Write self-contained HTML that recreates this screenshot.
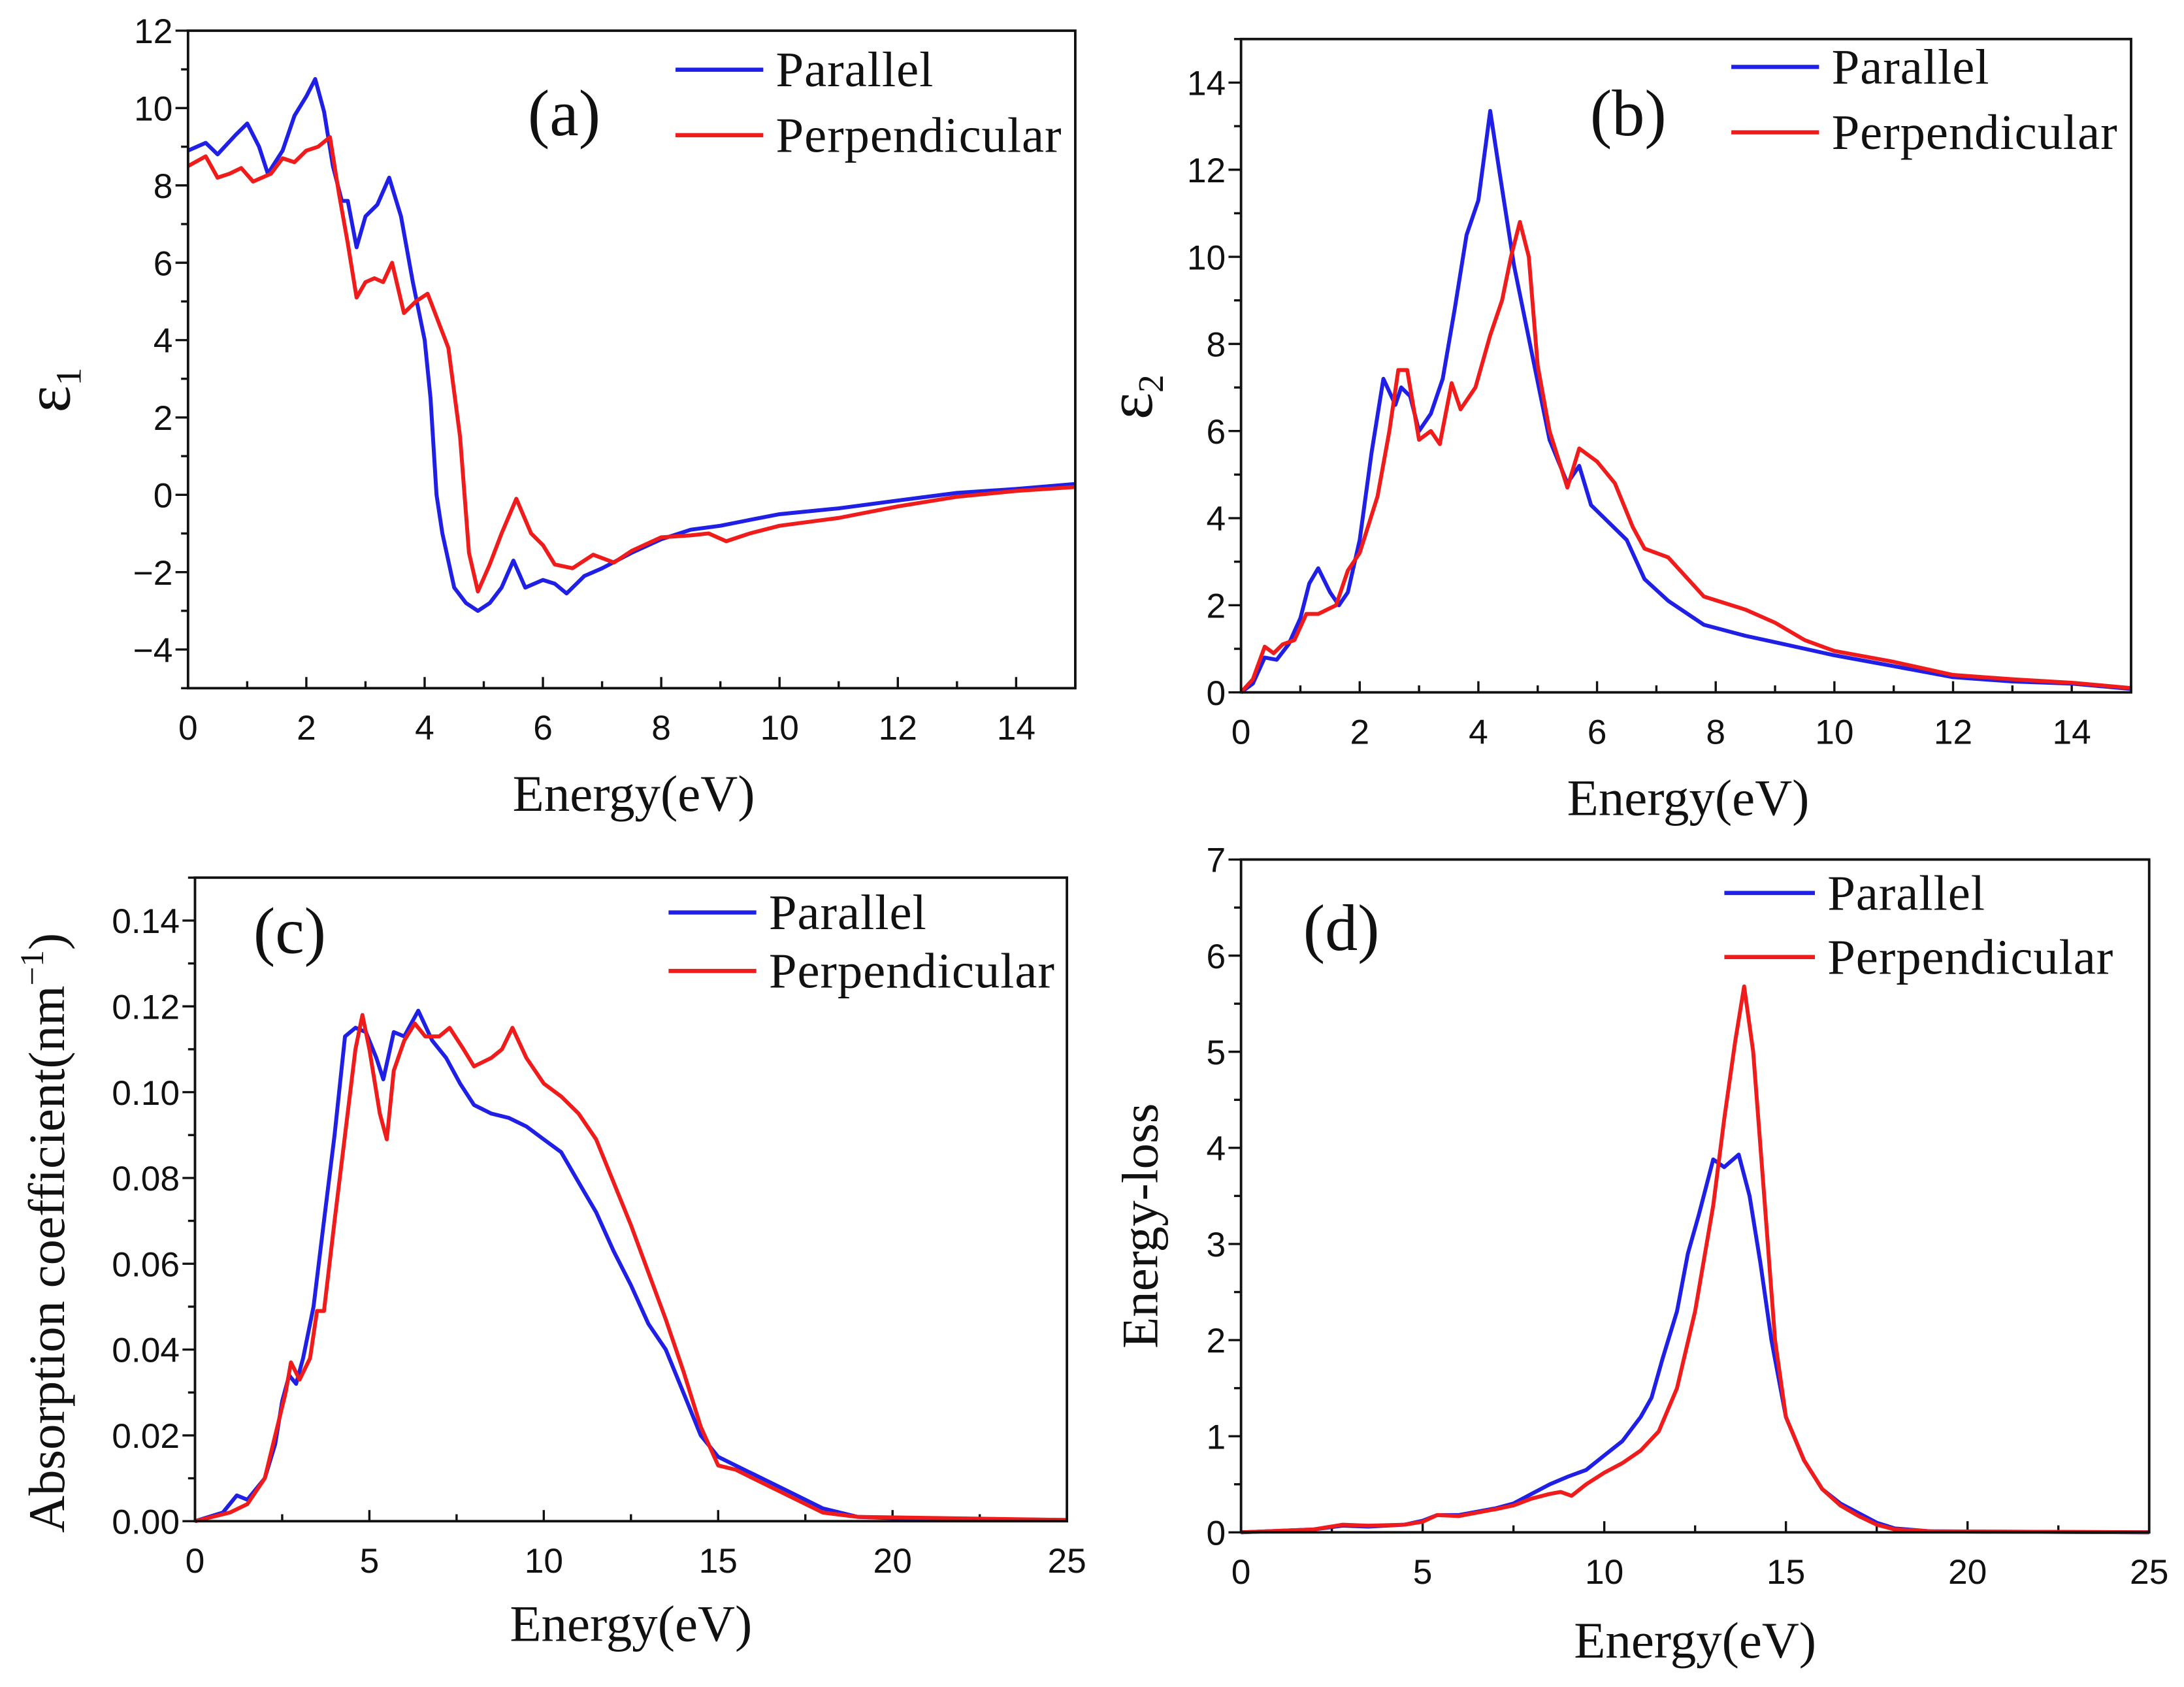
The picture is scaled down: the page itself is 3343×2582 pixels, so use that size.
<!DOCTYPE html>
<html><head><meta charset="utf-8"><style>
html,body{margin:0;padding:0;background:#fff;}
svg{display:block;}
.tk{font-family:"Liberation Sans",Arial,sans-serif;font-size:25px;fill:#111;}
.sf{font-family:"Liberation Serif","Times New Roman",serif;fill:#111;}
</style></head><body>
<svg id="fig" width="3343" height="2582" viewBox="0 0 1568 1211" xmlns="http://www.w3.org/2000/svg"></svg>
<script>
// ---- data (x: eV, y: value) ----
const aParX=[0,0.3,0.5,0.8,1.0,1.2,1.35,1.6,1.8,2.0,2.15,2.3,2.45,2.6,2.7,2.85,3.0,3.2,3.4,3.6,3.8,4.0,4.1,4.2,4.3,4.5,4.7,4.9,5.1,5.3,5.5,5.7,6.0,6.2,6.4,6.7,7,7.5,8,8.5,9,9.5,10,11,12,13,14,15];
const aParY=[8.9,9.1,8.8,9.3,9.6,9.0,8.3,8.9,9.8,10.3,10.75,9.9,8.5,7.6,7.6,6.4,7.2,7.5,8.2,7.2,5.5,4.0,2.5,0,-1.0,-2.4,-2.8,-3.0,-2.8,-2.4,-1.7,-2.4,-2.2,-2.3,-2.55,-2.1,-1.9,-1.5,-1.15,-0.9,-0.8,-0.65,-0.5,-0.35,-0.15,0.05,0.15,0.28];
const aPerX=[0,0.3,0.5,0.7,0.9,1.1,1.4,1.6,1.8,2.0,2.2,2.4,2.55,2.7,2.85,3.0,3.15,3.3,3.45,3.65,3.85,4.05,4.2,4.4,4.6,4.75,4.9,5.1,5.3,5.55,5.8,6.0,6.2,6.5,6.85,7.2,7.5,8,8.5,8.8,9.1,9.5,10,11,12,13,14,15];
const aPerY=[8.5,8.75,8.2,8.3,8.45,8.1,8.3,8.7,8.6,8.9,9.0,9.25,7.8,6.5,5.1,5.5,5.6,5.5,6.0,4.7,5.0,5.2,4.6,3.8,1.5,-1.5,-2.5,-1.8,-1.0,-0.1,-1.0,-1.3,-1.8,-1.9,-1.55,-1.75,-1.45,-1.1,-1.05,-1.0,-1.2,-1.0,-0.8,-0.6,-0.3,-0.05,0.1,0.2];
const bParX=[0,0.2,0.4,0.6,0.8,1.0,1.15,1.3,1.5,1.65,1.8,2.0,2.2,2.4,2.6,2.7,2.85,3.0,3.2,3.4,3.6,3.8,4.0,4.2,4.35,4.6,4.9,5.2,5.5,5.7,5.9,6.2,6.5,6.8,7.2,7.8,8.5,9,10,11,12,13,14,15];
const bParY=[0,0.2,0.8,0.75,1.1,1.7,2.5,2.85,2.3,2.0,2.3,3.5,5.5,7.2,6.6,7.0,6.8,6.0,6.4,7.2,8.8,10.5,11.3,13.35,12.0,9.8,7.8,5.8,4.8,5.2,4.3,3.9,3.5,2.6,2.1,1.55,1.3,1.15,0.85,0.6,0.35,0.25,0.2,0.08];
const bPerX=[0,0.2,0.4,0.55,0.7,0.9,1.1,1.3,1.6,1.8,2.0,2.3,2.5,2.65,2.8,3.0,3.2,3.35,3.55,3.7,3.95,4.2,4.4,4.55,4.7,4.85,5.0,5.2,5.5,5.7,6.0,6.3,6.6,6.8,7.2,7.8,8.5,9,9.5,10,11,12,13,14,15];
const bPerY=[0,0.3,1.05,0.9,1.1,1.2,1.8,1.8,2.0,2.8,3.2,4.5,6.0,7.4,7.4,5.8,6.0,5.7,7.1,6.5,7.0,8.2,9.0,10.0,10.8,10.0,7.5,6.0,4.7,5.6,5.3,4.8,3.8,3.3,3.1,2.2,1.9,1.6,1.2,0.95,0.7,0.4,0.3,0.22,0.1];
const cParX=[0,0.8,1.2,1.5,2.0,2.3,2.5,2.7,2.9,3.1,3.4,3.7,4.0,4.3,4.6,4.9,5.2,5.4,5.7,6.0,6.4,6.8,7.2,7.6,8.0,8.5,9,9.5,10,10.5,11,11.5,12,12.5,13,13.5,14,14.5,15,15.5,16,17,18,19,20,25];
const cParY=[0,0.002,0.006,0.005,0.01,0.018,0.028,0.034,0.032,0.038,0.05,0.07,0.09,0.113,0.115,0.114,0.108,0.103,0.114,0.113,0.119,0.112,0.108,0.102,0.097,0.095,0.094,0.092,0.089,0.086,0.079,0.072,0.063,0.055,0.046,0.04,0.03,0.02,0.015,0.013,0.011,0.007,0.003,0.001,0.0007,0.0003];
const cPerX=[0,1,1.5,2,2.3,2.6,2.75,3.0,3.3,3.5,3.7,4.0,4.3,4.6,4.8,5.0,5.3,5.5,5.7,6.0,6.3,6.6,7.0,7.3,7.7,8,8.5,8.8,9.1,9.5,10,10.5,11,11.5,12,12.5,13,13.5,14,14.5,15,15.5,16,17,18,19,25];
const cPerY=[0,0.002,0.004,0.01,0.02,0.03,0.037,0.033,0.038,0.049,0.049,0.07,0.09,0.11,0.118,0.11,0.095,0.089,0.105,0.112,0.116,0.113,0.113,0.115,0.11,0.106,0.108,0.11,0.115,0.108,0.102,0.099,0.095,0.089,0.079,0.069,0.058,0.047,0.035,0.022,0.013,0.012,0.01,0.006,0.002,0.001,0.0003];
const dParX=[0,2,2.8,3.5,4.5,5,5.4,6,7,7.5,8,8.5,9,9.5,10,10.5,11,11.3,11.6,12,12.3,12.6,13,13.3,13.7,14,14.3,14.6,15,15.5,16,16.5,17,17.5,18,19,25];
const dParY=[0,0.03,0.07,0.06,0.08,0.12,0.18,0.18,0.25,0.3,0.4,0.5,0.58,0.65,0.8,0.95,1.2,1.4,1.8,2.3,2.9,3.3,3.88,3.8,3.93,3.5,2.8,2.0,1.2,0.75,0.45,0.3,0.2,0.1,0.04,0.01,0];
const dPerX=[0,2,2.8,3.5,4.5,5,5.4,6,7,7.5,8,8.5,8.8,9.1,9.5,10,10.5,11,11.5,12,12.5,13,13.3,13.6,13.85,14.1,14.4,14.7,15,15.5,16,16.5,17,17.5,18,19,25];
const dPerY=[0,0.03,0.08,0.07,0.08,0.11,0.18,0.17,0.24,0.28,0.35,0.4,0.42,0.38,0.5,0.62,0.72,0.85,1.05,1.5,2.3,3.4,4.3,5.1,5.68,5.0,3.5,2.0,1.2,0.75,0.45,0.28,0.17,0.08,0.03,0.01,0];
const aXTicks=["0","2","4","6","8","10","12","14"];
const aYTicks=["\u22124","\u22122","0","2","4","6","8","10","12"];
const bYTicks=["0","2","4","6","8","10","12","14"];
const cXTicks=["0","5","10","15","20","25"];
const cYTicks=["0.00","0.02","0.04","0.06","0.08","0.10","0.12","0.14"];
const dYTicks=["0","1","2","3","4","5","6","7"];

const NS="http://www.w3.org/2000/svg";
const svg=document.getElementById('fig');
function mk(tag,attrs,parent){const e=document.createElementNS(NS,tag);for(const k in attrs)e.setAttribute(k,attrs[k]);(parent||svg).appendChild(e);return e;}

const panels=[
 {id:'a',L:135,R:772,T:22,B:494,x0:0,x1:15,y0:-5,y1:12,xt:aXTicks,xminor:1,yt:aYTicks,yminor:1,par:[aParX,aParY],per:[aPerX,aPerY],
  leg:[485,548,50,97],lab:[405,97],ytitle:'eps1',ytx:50,yty:280,xtx:455,xty:582},
 {id:'b',L:891,R:1530,T:28,B:497,x0:0,x1:15,y0:0,y1:15,xt:aXTicks,xminor:1,yt:bYTicks,yminor:1,par:[bParX,bParY],per:[bPerX,bPerY],
  leg:[1243,1306,48,95],lab:[1169,97],ytitle:'eps2',ytx:827,yty:285,xtx:1212,xty:585},
 {id:'c',L:140,R:766,T:630,B:1092,x0:0,x1:25,y0:0,y1:0.15,xt:cXTicks,xminor:2.5,yt:cYTicks,yminor:0.01,par:[cParX,cParY],per:[cPerX,cPerY],
  leg:[480,543,655,697],lab:[208,684],ytitle:'abs',ytx:46,yty:885,xtx:453,xty:1178},
 {id:'d',L:891,R:1543,T:617,B:1100,x0:0,x1:25,y0:0,y1:7,xt:cXTicks,xminor:2.5,yt:dYTicks,yminor:0.5,par:[dParX,dParY],per:[dPerX,dPerY],
  leg:[1238,1303,641,687],lab:[963,682],ytitle:'eloss',ytx:831,yty:880,xtx:1217,xty:1190}
];

panels.forEach(p=>{
  const g=mk('g',{});
  
  
  const sx=v=>p.L+(v-p.x0)/(p.x1-p.x0)*(p.R-p.L);
  const sy=v=>p.B-(v-p.y0)/(p.y1-p.y0)*(p.B-p.T);
  const xs=(p.id==='a'||p.id==='b')?2:5;
  for(let v=p.x0; v<=p.x1+1e-9; v+=p.xminor){
    const maj=Math.abs(v/xs-Math.round(v/xs))<1e-6;
    const t=mk('line',{x1:sx(v),x2:sx(v),y1:p.B,y2:p.B-(maj?8:5),stroke:'#111','stroke-width':1.6},g);
    
    
  }
  p.xt.forEach((s,i)=>{
    const t=mk('text',{x:sx(i*xs),y:p.B+37,'text-anchor':'middle',class:'tk'},g);
    t.textContent=s;
    
    
  });
  const ys=(p.id==='c')?0.02:((p.id==='d')?1:2);
  const yfirst=(p.id==='a')?-4:0;
  for(let v=p.y0; v<=p.y1+1e-9; v+=p.yminor){
    const maj=Math.abs((v-yfirst)/ys-Math.round((v-yfirst)/ys))<1e-6;
    const t=mk('line',{x1:p.L,x2:p.L-(maj?9:5),y1:sy(v),y2:sy(v),stroke:'#111','stroke-width':1.6},g);
    
    
  }
  p.yt.forEach((s,i)=>{
    const t=mk('text',{x:p.L-11,y:sy(yfirst+i*ys)+9,'text-anchor':'end',class:'tk'},g);
    t.textContent=s;
    
    
  });
  const series=[[p.par,'#1f1fe6','parallel'],[p.per,'#f01c1c','perpendicular']];
  series.forEach(([d,c,n])=>{
    let path='';
    d[0].forEach((x,i)=>{path+=(i?'L':'M')+sx(x).toFixed(1)+' '+sy(d[1][i]).toFixed(1);});
    const e=mk('path',{d:path,fill:'none',stroke:c,'stroke-width':2.8,'stroke-linejoin':'round'},g);
    
    
  });
  const fr=mk('rect',{x:p.L,y:p.T,width:p.R-p.L,height:p.B-p.T,fill:'none',stroke:'#111','stroke-width':1.8},g);
  
  
  const [l1,l2,y1,y2]=p.leg;
  [[y1,'#1f1fe6','Parallel'],[y2,'#f01c1c','Perpendicular']].forEach(([yy,c,s])=>{
    const ln=mk('line',{x1:l1,x2:l2,y1:yy,y2:yy,stroke:c,'stroke-width':3},g);
    
    
    const t=mk('text',{x:l2+9,y:yy+12,class:'sf','font-size':36,textLength:s==='Parallel'?113:205},g);
    t.textContent=s;
    
    
  });
  const lb=mk('text',{x:p.lab[0],y:p.lab[1],'text-anchor':'middle',class:'sf','font-size':47},g);
  lb.textContent='('+p.id+')';
  
  
  const xt=mk('text',{x:p.xtx,y:p.xty,'text-anchor':'middle',class:'sf','font-size':37},g);
  xt.textContent='Energy(eV)';
  
  
  const yt=mk('text',{x:0,y:0,'text-anchor':'middle',class:'sf','font-size':37,transform:`translate(${p.ytx},${p.yty}) rotate(-90)`},g);
  
  
  if(p.ytitle==='eps1'||p.ytitle==='eps2'){
    yt.setAttribute('font-size',46);
    yt.innerHTML='ε<tspan font-size="26" dy="8">'+(p.ytitle==='eps1'?'1':'2')+'</tspan>';
  } else if(p.ytitle==='abs'){
    yt.innerHTML='Absorption coefficient(nm<tspan font-size="24" dy="-15">−1</tspan><tspan dy="15">)</tspan>';
  } else {
    yt.textContent='Energy-loss';
  }
});
</script>
</body></html>
